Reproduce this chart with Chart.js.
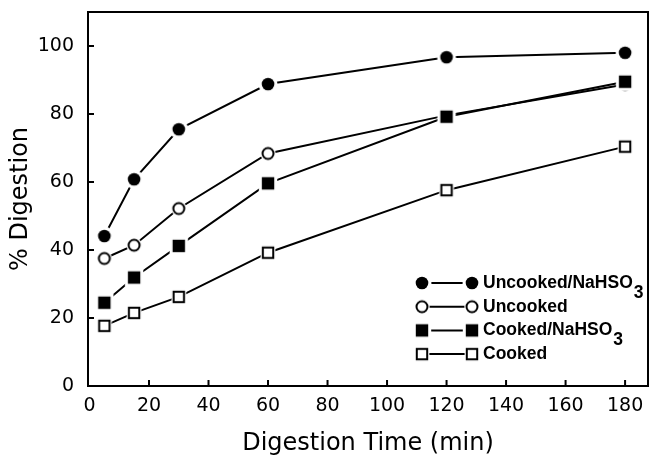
<!DOCTYPE html>
<html>
<head>
<meta charset="utf-8">
<script src="https://cdn.jsdelivr.net/npm/chart.js@4/dist/chart.umd.min.js"></script>
<style>
  html, body { margin: 0; padding: 0; background: #fff; }
  #c { display: block; }
</style>
</head>
<body>
<canvas id="c" width="652" height="456"></canvas>
<script>
// ---- data ----
const timeMin = [5, 15, 30, 60, 120, 180];
const uncookedNaHSO3 = [44.1, 60.8, 75.5, 88.8, 96.7, 98.0];
const uncooked       = [37.5, 41.4, 52.2, 68.4, 79.6, 88.7];
const cookedNaHSO3   = [24.5, 31.9, 41.2, 59.6, 79.2, 89.5];
const cooked         = [17.7, 21.5, 26.2, 39.2, 57.6, 70.4];
const seriesLabels = ['Uncooked/NaHSO\u2083', 'Uncooked', 'Cooked/NaHSO\u2083', 'Cooked'];
const xTicks = [0, 20, 40, 60, 80, 100, 120, 140, 160, 180];
const yTicks = [0, 20, 40, 60, 80, 100];
const xTitle = 'Digestion Time (min)';
const yTitle = '% Digestion';

// ---- marker images (with white halo) ----
function makeMarker(shape, filled) {
  const s = 26, c = s / 2;
  const cv = document.createElement('canvas');
  cv.width = s; cv.height = s;
  const g = cv.getContext('2d');
  const halo = filled ? 3 : 1.2;
  g.fillStyle = '#fff';
  if (shape === 'circle') {
    g.beginPath(); g.arc(c, c, 6.5 + halo, 0, Math.PI * 2); g.fill();
    if (filled) {
      g.fillStyle = '#000';
      g.beginPath(); g.arc(c, c, 6.3, 0, Math.PI * 2); g.fill();
    } else {
      g.strokeStyle = '#000'; g.lineWidth = 2;
      g.beginPath(); g.arc(c, c, 5.5, 0, Math.PI * 2); g.stroke();
    }
  } else {
    const h = 6.2;
    g.fillRect(c - h - halo, c - h - halo, 2 * (h + halo), 2 * (h + halo));
    if (filled) {
      g.fillStyle = '#000';
      g.fillRect(c - h, c - h, 2 * h, 2 * h);
    } else {
      g.strokeStyle = '#000'; g.lineWidth = 2;
      g.strokeRect(c - h + 1, c - h + 1, 2 * h - 2, 2 * h - 2);
    }
  }
  return cv;
}
const markers = [
  makeMarker('circle', true),
  makeMarker('circle', false),
  makeMarker('rect', true),
  makeMarker('rect', false)
];

const seriesValues = [uncookedNaHSO3, uncooked, cookedNaHSO3, cooked];
const drawOrder = [0, 1, -1, 2];

const datasets = seriesValues.map((vals, i) => ({
  label: seriesLabels[i],
  data: timeMin.map((t, k) => ({ x: t, y: vals[k] })),
  borderColor: '#000',
  borderWidth: 2,
  pointStyle: markers[i],
  pointRadius: 1,
  pointBorderWidth: 0,
  tension: 0,
  fill: false,
  clip: 12,
  order: drawOrder[i],
  _marker: markers[i]
}));

const FONT = '"DejaVu Sans", sans-serif';

// frame + inward ticks
const framePlugin = {
  id: 'frame',
  afterDraw(chart) {
    const { ctx, chartArea: a, scales } = chart;
    ctx.save();
    ctx.strokeStyle = '#000';
    ctx.lineWidth = 2;
    ctx.strokeRect(a.left, a.top, a.right - a.left, a.bottom - a.top);
    ctx.beginPath();
    const tl = 6;
    scales.x.ticks.forEach(t => {
      const px = scales.x.getPixelForValue(t.value);
      if (t.value === 0) return;
      ctx.moveTo(px, a.bottom); ctx.lineTo(px, a.bottom - tl);
    });
    scales.y.ticks.forEach(t => {
      const py = scales.y.getPixelForValue(t.value);
      if (t.value === 0) return;
      ctx.moveTo(a.left, py); ctx.lineTo(a.left + tl, py);
    });
    ctx.stroke();
    ctx.restore();
  }
};

// custom legend: marker — line — marker  label
const legendPlugin = {
  id: 'customLegend',
  afterDraw(chart) {
    const { ctx } = chart;
    const x0 = 422, x1 = 472, textX = 483, y0 = 283, dy = 23.7;
    ctx.save();
    chart.data.datasets.forEach((ds, i) => {
      const y = y0 + i * dy;
      ctx.strokeStyle = '#000';
      ctx.lineWidth = 2;
      ctx.beginPath(); ctx.moveTo(x0, y); ctx.lineTo(x1, y); ctx.stroke();
      const m = ds._marker;
      ctx.drawImage(m, x0 - m.width / 2, y - m.height / 2);
      ctx.drawImage(m, x1 - m.width / 2, y - m.height / 2);
      ctx.fillStyle = '#000';
      ctx.font = 'bold 17.5px "Liberation Sans", Arial, sans-serif';
      ctx.textBaseline = 'middle';
      ctx.textAlign = 'left';
      let label = ds.label;
      let sub = null;
      if (label.endsWith('\u2083')) { sub = '3'; label = label.slice(0, -1); }
      ctx.fillText(label, textX, y);
      if (sub) {
        const w = ctx.measureText(label).width;
        ctx.fillText(sub, textX + w + 1, y + 10);
      }
    });
    ctx.restore();
  }
};

new Chart(document.getElementById('c'), {
  type: 'line',
  data: { datasets },
  options: {
    responsive: false,
    animation: false,
    events: [],
    layout: { padding: { top: 12, right: 4, left: 0, bottom: 0 } },
    plugins: { legend: { display: false }, tooltip: { enabled: false } },
    scales: {
      x: {
        type: 'linear',
        min: -0.5, max: 187.7,
        grid: { display: false, drawTicks: false },
        border: { display: false },
        afterBuildTicks: s => { s.ticks = xTicks.map(v => ({ value: v })); },
        afterFit: s => { s.height = 70; s.paddingLeft = 0; s.paddingRight = 0; },
        ticks: { color: '#000', padding: 9, font: { family: FONT, size: 19 }, maxRotation: 0, autoSkip: false },
        title: { display: true, text: xTitle, color: '#000', font: { family: FONT, size: 24, lineHeight: 1.0 }, padding: { top: 0, bottom: 0 } }
      },
      y: {
        type: 'linear',
        min: 0, max: 110,
        grid: { display: false, drawTicks: false },
        border: { display: false },
        afterBuildTicks: s => { s.ticks = yTicks.map(v => ({ value: v })); },
        afterFit: s => { s.width = 88; s.paddingTop = 0; s.paddingBottom = 0; },
        ticks: { color: '#000', padding: 14, font: { family: FONT, size: 19 } },
        title: { display: true, text: yTitle, color: '#000', font: { family: FONT, size: 24, lineHeight: 1.0 }, padding: { top: 9, bottom: 0 } }
      }
    }
  },
  plugins: [framePlugin, legendPlugin]
});
</script>
</body>
</html>
